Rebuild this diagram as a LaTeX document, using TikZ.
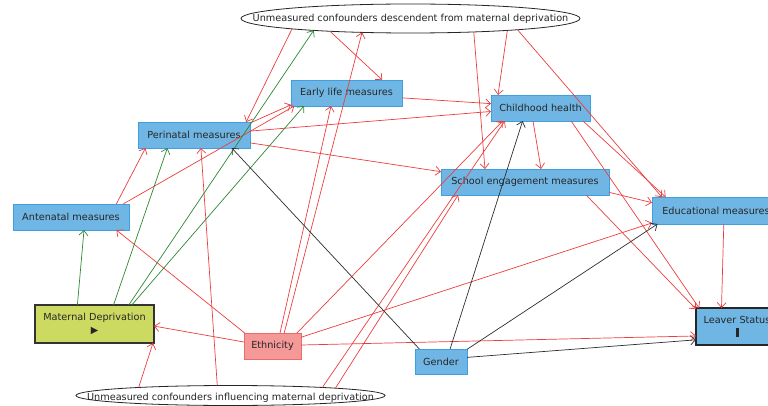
\documentclass[tikz,border=0pt]{standalone}
\usepackage{fontspec}
\setmainfont{DejaVu Sans}
\usetikzlibrary{arrows.meta, shapes.geometric}

\definecolor{boxblue}{RGB}{112,182,228}
\definecolor{boxline}{RGB}{62,160,224}
\definecolor{expofill}{RGB}{205,218,98}
\definecolor{adjfill}{RGB}{245,152,152}
\definecolor{adjline}{RGB}{238,105,105}
\definecolor{redarc}{RGB}{236,62,62}
\definecolor{greenarc}{RGB}{45,135,50}
\definecolor{blackarc}{RGB}{45,45,45}

\begin{document}
\begin{tikzpicture}[
  x=1pt, y=-1pt, >={Straight Barb[length=5pt,width=9pt]},
  every node/.style={font=\fontsize{9.7}{11}\selectfont, text=black!85},
  var/.style={draw=boxline, fill=boxblue, line width=0.8pt, minimum height=26pt, inner sep=0pt, outer sep=0pt, align=center},
  expo/.style={var, draw=black!80, fill=expofill, line width=1.1pt},
  outc/.style={var, draw=black!85, line width=1.5pt},
  adj/.style={var, draw=adjline, fill=adjfill},
  latent/.style={ellipse, draw=black!85, fill=white, line width=0.8pt, inner sep=0pt, outer sep=0pt},
  biasarc/.style={->, draw=redarc, line width=0.7pt},
  causalarc/.style={->, draw=greenarc, line width=0.7pt},
  plainarc/.style={->, draw=blackarc, line width=0.7pt}
]
  \useasboundingbox (0,0) rectangle (768,406);

  \node[latent, minimum width=339pt, minimum height=29pt,
    label=center:{Unmeasured confounders descendent from maternal deprivation}] (u1) at (410.5,18.5) {};
  \node[latent, minimum width=309pt, minimum height=20pt,
    label={[yshift=-2pt]center:{Unmeasured confounders influencing maternal deprivation}}] (u2) at (230.5,395.5) {};
  \node[var, minimum width=111pt] (early) at (346.5,93) {Early life measures};
  \node[var, minimum width=112pt] (peri) at (194,135) {Perinatal measures};
  \node[var, minimum width=99pt] (child) at (540.5,108) {Childhood health};
  \node[var, minimum width=168pt] (school) at (525,182) {School engagement measures};
  \node[var, minimum width=128pt, minimum height=27pt] (educ) at (716,210.5) {Educational measures};
  \node[var, minimum width=116pt] (ante) at (71,217) {Antenatal measures};
  \node[expo, minimum width=119pt, minimum height=38pt] (md) at (94.5,324) {Maternal Deprivation\\[2pt]▶};
  \node[adj, minimum width=57pt] (eth) at (272.5,346) {Ethnicity};
  \node[var, minimum width=52pt, minimum height=25pt] (gender) at (441,361.5) {Gender};
  \node[outc, minimum width=82pt, minimum height=37pt] (leaver) at (737,326.5) {Leaver Status\\[3pt]\rule{3pt}{9pt}};

  % upper unmeasured node
  \draw[biasarc] (u1.185.1) -- (peri.14.3);
  \draw[biasarc] (u1.189.4) -- (early.20.1);
  \draw[biasarc] (u1.348.7) -- (school.162.8);
  \draw[biasarc] (u1.353.9) -- (child.163.4);
  \draw[biasarc] (u1.354.4) -- (educ.166);
  % ethnicity
  \draw[biasarc] (eth.48.5) -- (u1.196.3);
  \draw[biasarc] (eth.60) -- (early.220);
  \draw[biasarc] (eth.155) -- (ante.344.5);
  \draw[biasarc] (eth.172) -- (md.358);
  \draw[biasarc] (eth.28) -- (child.199);
  \draw[biasarc] (eth.17.5) -- (educ.191);
  \draw[biasarc] (eth.2) -- (leaver.193);
  % lower unmeasured node
  \draw[biasarc] (u2.175.8) -- (md.342);
  \draw[biasarc] (u2.143.6) -- (peri.298.3);
  \draw[biasarc] (u2.5.95) -- (child.200);
  \draw[biasarc] (u2.4.87) -- (school.191.8);
  % measures
  \draw[biasarc] (ante.16.5) -- (peri.195.8);
  \draw[biasarc] (ante.14) -- (early.194);
  \draw[biasarc] (peri.12.1) -- (early.192);
  \draw[biasarc] (peri.4) -- (child.184.6);
  \draw[biasarc] (peri.352.9) -- (school.173.9);
  \draw[biasarc] (early.355.9) -- (child.175.4);
  \draw[biasarc] (child.240) -- (school.39.1);
  \draw[biasarc] (child.343) -- (educ.165);
  \draw[biasarc] (child.337.6) -- (leaver.154.6);
  \draw[biasarc] (school.353.2) -- (educ.173.3);
  \draw[biasarc] (school.348.2) -- (leaver.157);
  \draw[biasarc] (educ.300.7) -- (leaver.130.9);
  % exposure
  \draw[causalarc] (md.132.6) -- (ante.315);
  \draw[causalarc] (md.45.8) -- (peri.206.6);
  \draw[causalarc] (md.29.6) -- (u1.187.5);
  \draw[causalarc] (md.27.5) -- (early.197.8);
  % gender
  \draw[plainarc] (gender.150.4) -- (peri.341.6);
  \draw[plainarc] (gender.54.2) -- (child.216.6);
  \draw[plainarc] (gender.25.7) -- (educ.193.6);
  \draw[plainarc] (gender.9.8) -- (leaver.198.2);
\end{tikzpicture}
\end{document}
